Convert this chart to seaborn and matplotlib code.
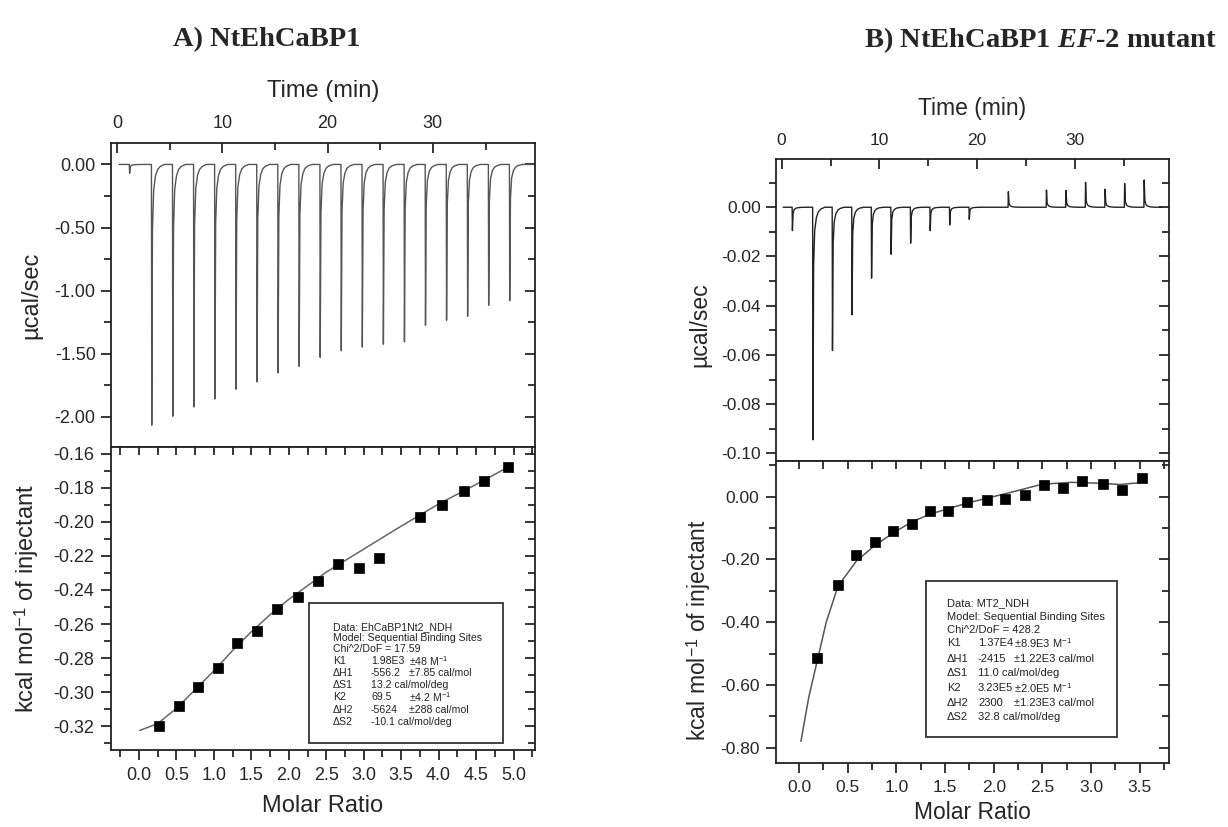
import numpy as np
import pandas as pd
import seaborn as sns
import matplotlib.pyplot as plt
from matplotlib.ticker import MultipleLocator, FuncFormatter
from matplotlib.patches import Rectangle

# ---- panel A: NtEhCaBP1 ----
a_inj_time = [1.2, 3.3, 5.3, 7.3, 9.3, 11.3, 13.3, 15.3, 17.3, 19.3, 21.3, 23.3,
              25.3, 27.3, 29.3, 31.3, 33.3, 35.3, 37.3]
a_inj_peak = [-0.07, -2.067, -1.996, -1.922, -1.859, -1.782, -1.724, -1.652, -1.600,
              -1.530, -1.478, -1.448, -1.425, -1.407, -1.274, -1.235, -1.203, -1.116, -1.08]
a_ratio = [0.27, 0.53, 0.79, 1.06, 1.31, 1.58, 1.84, 2.12, 2.39, 2.66, 2.94, 3.21,
           3.75, 4.05, 4.34, 4.61, 4.93]
a_heat = [-0.320, -0.308, -0.297, -0.286, -0.271, -0.264, -0.251, -0.244, -0.235,
          -0.225, -0.227, -0.221, -0.197, -0.190, -0.182, -0.176, -0.168]
a_fit_ratio = [0.01, 0.25, 0.5, 0.75, 1.0, 1.25, 1.5, 1.75, 2.0, 2.5, 3.0, 3.5, 3.75,
               4.0, 4.5, 4.9]
a_fit_heat = [-0.3225, -0.3185, -0.3095, -0.2985, -0.2875, -0.2755, -0.2645, -0.2545,
              -0.2455, -0.2295, -0.2160, -0.2025, -0.1960, -0.1895, -0.1780, -0.1685]
a_box = [("Data: EhCaBP1Nt2_NDH", "", ""),
         ("Model: Sequential Binding Sites", "", ""),
         ("Chi^2/DoF = 17.59", "", ""),
         ("K1", "1.98E3", r"±48 M$^{\mathregular{-1}}$"),
         ("ΔH1", "-556.2", "±7.85 cal/mol"),
         ("ΔS1", "13.2 cal/mol/deg", ""),
         ("K2", "69.5", r"±4.2 M$^{\mathregular{-1}}$"),
         ("ΔH2", "-5624", "±288 cal/mol"),
         ("ΔS2", "-10.1 cal/mol/deg", "")]

# ---- panel B: EF-2 mutant ----
b_inj_time = [1.1, 3.2, 5.2, 7.2, 9.2, 11.2, 13.2, 15.2, 17.2, 19.2, 23.2, 27.1,
              29.1, 31.1, 33.1, 35.1, 37.1]
b_inj_peak = [-0.0095, -0.0945, -0.0582, -0.0437, -0.0288, -0.0191, -0.0146, -0.0095,
              -0.0072, -0.0049, 0.0063, 0.0070, 0.0068, 0.0101, 0.0073, 0.0097, 0.0111]
b_ratio = [0.19, 0.40, 0.59, 0.78, 0.97, 1.16, 1.35, 1.53, 1.73, 1.93, 2.12, 2.32,
           2.52, 2.71, 2.91, 3.12, 3.32, 3.52]
b_heat = [-0.513, -0.281, -0.186, -0.145, -0.108, -0.086, -0.047, -0.046, -0.018,
          -0.010, -0.006, 0.004, 0.039, 0.027, 0.051, 0.042, 0.021, 0.060]
b_fit_ratio = [0.02, 0.1, 0.19, 0.28, 0.40, 0.59, 0.78, 0.97, 1.16, 1.35, 1.73, 2.2,
               2.5, 2.8, 3.1, 3.3, 3.5]
b_fit_heat = [-0.78, -0.64, -0.52, -0.40, -0.285, -0.205, -0.155, -0.115, -0.080,
              -0.055, -0.020, 0.016, 0.040, 0.046, 0.043, 0.039, 0.045]
b_box = [("Data: MT2_NDH", "", ""),
         ("Model: Sequential Binding Sites", "", ""),
         ("Chi^2/DoF = 428.2", "", ""),
         ("K1", "1.37E4", r"±8.9E3 M$^{\mathregular{-1}}$"),
         ("ΔH1", "-2415", "±1.22E3 cal/mol"),
         ("ΔS1", "11.0 cal/mol/deg", ""),
         ("K2", "3.23E5", r"±2.0E5 M$^{\mathregular{-1}}$"),
         ("ΔH2", "2300", "±1.23E3 cal/mol"),
         ("ΔS2", "32.8 cal/mol/deg", "")]

# injection spike template (time offset in min, fraction of peak height)
shape_dt = [-0.03, 0.0, 0.07, 0.18, 0.35, 0.55, 0.8, 1.2]
shape_frac = [0.0, 1.0, 0.25, 0.10, 0.045, 0.02, 0.008, 0.0]

W, H = 1228, 827
sns.set_theme(style="ticks")
plt.rcParams['font.family'] = ['Liberation Sans', 'DejaVu Sans']
plt.rcParams['mathtext.fontset'] = 'custom'
plt.rcParams['mathtext.it'] = 'Liberation Serif:italic:bold'
plt.rcParams['mathtext.rm'] = 'Liberation Serif:bold'

fig = plt.figure(figsize=(W / 100, H / 100), dpi=100)
fmt2 = FuncFormatter(lambda v, p: "0.00" if abs(v) < 1e-9 else f"{v:.2f}")
fmt1 = FuncFormatter(lambda v, p: "0.0" if abs(v) < 1e-9 else f"{v:.1f}")


def px_axes(x0, y0, x1, y1):
    # pixel box (top-left origin) -> figure axes
    return fig.add_axes([x0 / W, 1 - y1 / H, (x1 - x0) / W, (y1 - y0) / H])


def thermogram(times, peaks, t0, t1):
    t, q = [t0], [0.0]
    for tt, p in zip(times, peaks):
        for dt, f in zip(shape_dt, shape_frac):
            t.append(tt + dt)
            q.append(p * f)
    t.append(t1)
    q.append(0.0)
    return pd.DataFrame({"time": t, "power": q})


def frame(ax, lw=1.3):
    for s in ax.spines.values():
        s.set_visible(True)
        s.set_linewidth(lw)
        s.set_color("#222222")


def style_upper(ax, xlim, ylim, ymaj, ymin, fs):
    ax.set_xlim(xlim)
    ax.set_ylim(ylim)
    frame(ax)
    ax.xaxis.tick_top()
    ax.xaxis.set_label_position("top")
    ax.xaxis.set_major_locator(MultipleLocator(10))
    ax.xaxis.set_minor_locator(MultipleLocator(5))
    ax.yaxis.set_major_locator(MultipleLocator(ymaj))
    ax.yaxis.set_minor_locator(MultipleLocator(ymin))
    ax.yaxis.set_major_formatter(fmt2)
    ax.tick_params(axis="x", which="major", direction="in", length=7, width=1.3,
                   top=True, bottom=False, labelsize=fs, pad=8)
    ax.tick_params(axis="x", which="minor", direction="in", length=5, width=1.3,
                   top=True, bottom=False)
    ax.tick_params(axis="y", which="major", direction="out", length=7, width=1.3,
                   labelsize=fs, pad=4)
    ax.tick_params(axis="y", which="minor", direction="out", length=5, width=1.3)
    sec = ax.secondary_yaxis("right")
    sec.yaxis.set_major_locator(MultipleLocator(ymaj))
    sec.yaxis.set_minor_locator(MultipleLocator(ymin))
    sec.tick_params(which="major", direction="in", length=7, width=1.3, labelright=False)
    sec.tick_params(which="minor", direction="in", length=5, width=1.3)
    sec.spines["right"].set_visible(False)


def style_lower(ax, xlim, ylim, ymaj, ymin, fs):
    ax.set_xlim(xlim)
    ax.set_ylim(ylim)
    frame(ax)
    ax.xaxis.set_major_locator(MultipleLocator(0.5))
    ax.xaxis.set_minor_locator(MultipleLocator(0.25))
    ax.xaxis.set_major_formatter(fmt1)
    ax.yaxis.set_major_locator(MultipleLocator(ymaj))
    ax.yaxis.set_minor_locator(MultipleLocator(ymin))
    ax.yaxis.set_major_formatter(fmt2)
    ax.tick_params(axis="both", which="major", direction="out", length=7, width=1.3,
                   labelsize=fs, pad=5)
    ax.tick_params(axis="both", which="minor", direction="out", length=5, width=1.3)
    sx = ax.secondary_xaxis("top")
    sx.xaxis.set_major_locator(MultipleLocator(0.5))
    sx.xaxis.set_minor_locator(MultipleLocator(0.25))
    sx.tick_params(which="both", direction="in", length=6, width=1.3, labeltop=False)
    sx.spines["top"].set_visible(False)
    sy = ax.secondary_yaxis("right")
    sy.yaxis.set_major_locator(MultipleLocator(ymaj))
    sy.yaxis.set_minor_locator(MultipleLocator(ymin))
    sy.tick_params(which="major", direction="in", length=7, width=1.3, labelright=False)
    sy.tick_params(which="minor", direction="in", length=5, width=1.3)
    sy.spines["right"].set_visible(False)


def text_box(ax, rect, rows, cols, y_lines, fs):
    ax.add_patch(Rectangle((rect[0], rect[1]), rect[2] - rect[0], rect[3] - rect[1],
                           transform=ax.transAxes, facecolor="white",
                           edgecolor="#333333", lw=1.3, zorder=5))
    for (c1, c2, c3), y in zip(rows, y_lines):
        for txt, x in zip((c1, c2, c3), cols):
            if txt:
                fig.text(x / W, 1 - y / H, txt, fontsize=fs, va="center", ha="left",
                         color="#222222", zorder=6)


# ---------------- panel A ----------------
ax_a1 = px_axes(111, 143, 535, 447)
sns.lineplot(data=thermogram(a_inj_time, a_inj_peak, 0.2, 39.5), x="time", y="power",
             sort=False, estimator=None, color="#555555", lw=1.0, ax=ax_a1)
style_upper(ax_a1, (-0.57, 39.7), (-2.24, 0.17), 0.5, 0.25, 13)
ax_a1.set_xlabel("Time (min)", fontsize=17)
ax_a1.set_ylabel("µcal/sec", fontsize=17)
ax_a1.xaxis.set_label_coords(0.5, 1.151)
ax_a1.yaxis.set_label_coords(-0.163, 0.5)

ax_a2 = px_axes(111, 447, 535, 750)
sns.lineplot(x=a_fit_ratio, y=a_fit_heat, sort=False, estimator=None,
             color="#666666", lw=1.1, ax=ax_a2)
sns.scatterplot(x=a_ratio, y=a_heat, marker="s", s=62, color="black",
                edgecolor="black", linewidth=0.5, ax=ax_a2, zorder=4)
style_lower(ax_a2, (-0.374, 5.287), (-0.334, -0.156), 0.02, 0.01, 13)
ax_a2.set_xlabel("Molar Ratio", fontsize=17)
ax_a2.set_ylabel(r"kcal mol$^{\mathregular{-1}}$ of injectant", fontsize=17)
ax_a2.xaxis.set_label_coords(0.5, -0.148)
ax_a2.yaxis.set_label_coords(-0.166, 0.5)
text_box(ax_a2, (0.468, 0.022, 0.924, 0.484), a_box, (333, 371, 409),
         [626.7, 637.7, 648.5, 661.5, 673.3, 685, 697.5, 710, 721.7], 7.6)

# ---------------- panel B ----------------
ax_b1 = px_axes(776, 159, 1169, 461)
sns.lineplot(data=thermogram(b_inj_time, b_inj_peak, 0.15, 38.9), x="time", y="power",
             sort=False, estimator=None, color="#222222", lw=1.0, ax=ax_b1)
style_upper(ax_b1, (-0.58, 39.64), (-0.1031, 0.0196), 0.02, 0.01, 12.5)
ax_b1.set_xlabel("Time (min)", fontsize=16.5)
ax_b1.set_ylabel("µcal/sec", fontsize=16.5)
ax_b1.xaxis.set_label_coords(0.5, 1.146)
ax_b1.yaxis.set_label_coords(-0.165, 0.45)

ax_b2 = px_axes(776, 461, 1169, 763)
sns.lineplot(x=b_fit_ratio, y=b_fit_heat, sort=False, estimator=None,
             color="#555555", lw=1.1, ax=ax_b2)
sns.scatterplot(x=b_ratio, y=b_heat, marker="s", s=58, color="black",
                edgecolor="black", linewidth=0.5, ax=ax_b2, zorder=4)
style_lower(ax_b2, (-0.236, 3.80), (-0.849, 0.114), 0.2, 0.1, 12.5)
ax_b2.set_xlabel("Molar Ratio", fontsize=16.5)
ax_b2.set_ylabel(r"kcal mol$^{\mathregular{-1}}$ of injectant", fontsize=16.5)
ax_b2.xaxis.set_label_coords(0.5, -0.125)
ax_b2.yaxis.set_label_coords(-0.16, 0.44)
text_box(ax_b2, (0.382, 0.087, 0.867, 0.603), b_box, (947, 978, 1014),
         [602.7, 616.7, 630, 643.5, 659, 673.3, 688.3, 702.7, 716.7], 8.0)

# ---------------- titles ----------------
fig.text(267 / W, 1 - 40 / H, "A) NtEhCaBP1", fontsize=20.5, fontweight="bold",
         family=["Liberation Serif"], ha="center", va="center")
fig.text(1040 / W, 1 - 40 / H, r"B) NtEhCaBP1 $\mathit{EF}$-2 mutant", fontsize=20.5,
         fontweight="bold", family=["Liberation Serif"], ha="center", va="center")

fig.savefig("out.png", dpi=100)
